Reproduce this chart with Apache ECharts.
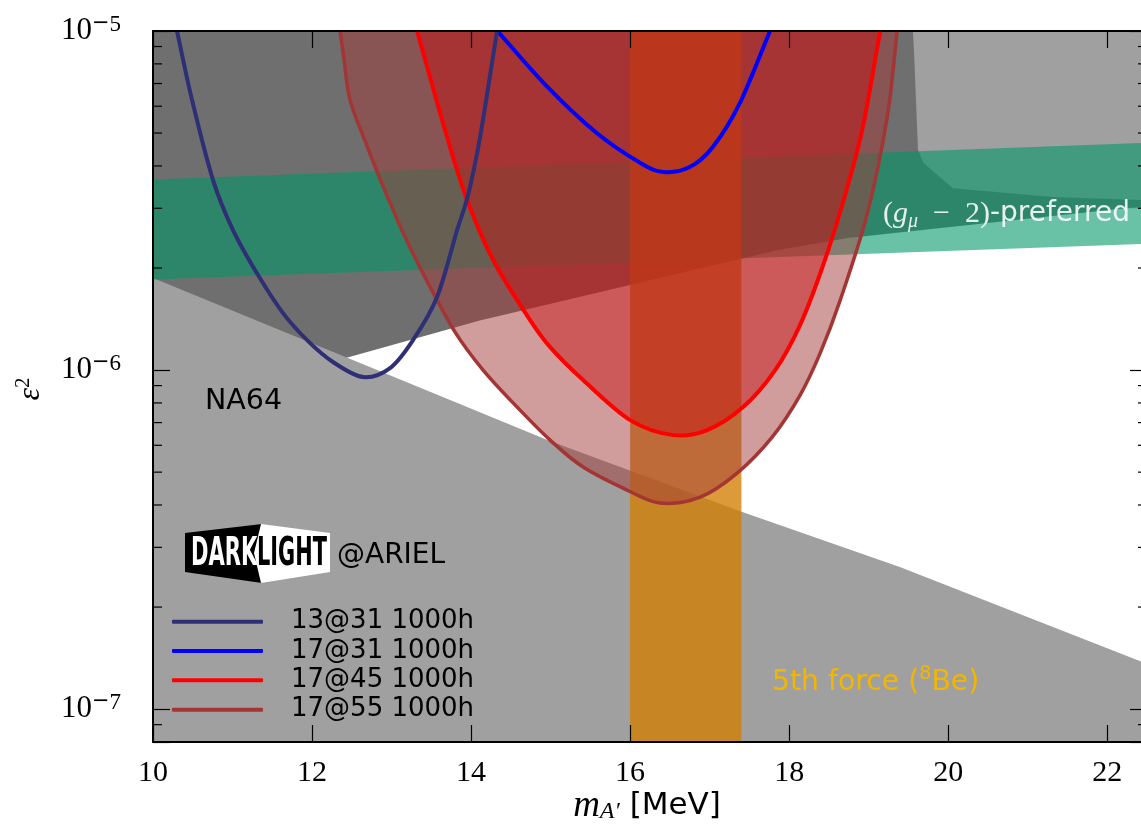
<!DOCTYPE html>
<html><head><meta charset="utf-8">
<script src="https://cdn.jsdelivr.net/npm/echarts@6/dist/echarts.min.js"></script>
<style>html,body{margin:0;padding:0;background:#fff}#c{width:1141px;height:832px}</style>
</head><body><div id="c"></div>
<script>
// ---- axis ranges & ticks ----
const X_MIN = 10, X_MAX = 22.5, Y_MIN = 8e-8, Y_MAX = 1e-5;
const xTickLabels = [10, 12, 14, 16, 18, 20, 22];
const yMajorTicks = [1e-7, 1e-6, 1e-5];
const yMinorTicks = [9e-8, 2e-7, 3e-7, 4e-7, 5e-7, 6e-7, 7e-7, 8e-7, 9e-7,
                     2e-6, 3e-6, 4e-6, 5e-6, 6e-6, 7e-6, 8e-6, 9e-6];

// ---- sensitivity curves [m_A' (MeV), eps^2] ----
const curve13at31 = [[10.302,1e-5],[10.491,6.256e-6],[10.755,3.634e-6],[11.006,2.588e-6],[11.321,1.906e-6],[11.635,1.472e-6],[11.950,1.217e-6],[12.264,1.056e-6],[12.642,9.537e-7],[12.981,1.014e-6],[13.270,1.226e-6],[13.572,1.642e-6],[13.824,2.588e-6],[13.962,3.282e-6],[14.113,4.867e-6],[14.327,1e-5]];
const curve17at31 = [[14.33,1e-5],[14.96,6.84e-6],[15.58,5.0e-6],[16.13,4.08e-6],[16.42,3.84e-6],[16.75,3.97e-6],[17.04,4.55e-6],[17.38,6.13e-6],[17.76,1e-5]];
const curve17at45 = [[13.321,1e-5],[13.698,4.867e-6],[13.950,3.173e-6],[14.277,2.111e-6],[14.742,1.404e-6],[14.994,1.169e-6],[15.409,9.343e-7],[16.000,7.119e-7],[16.541,6.429e-7],[16.969,6.652e-7],[17.421,7.778e-7],[17.824,1.0e-6],[18.138,1.36e-6],[18.415,2.0e-6],[18.667,3.067e-6],[18.918,5.105e-6],[19.145,1e-5]];
const curve17at55 = [[12.352,1e-5],[12.403,8.21e-6],[12.478,6.256e-6],[12.667,4.736e-6],[12.918,3.373e-6],[13.170,2.468e-6],[13.459,1.805e-6],[13.799,1.294e-6],[14.151,1.0e-6],[14.579,7.778e-7],[14.994,6.215e-7],[15.409,5.175e-7],[15.962,4.426e-7],[16.377,4.052e-7],[16.881,4.221e-7],[17.346,4.968e-7],[17.786,6.342e-7],[18.138,8.44e-7],[18.390,1.122e-6],[18.642,1.608e-6],[18.981,2.885e-6],[19.233,5.575e-6],[19.358,1e-5]];

// ---- excluded / preferred regions ----
const na64Region = [[10,1.87e-6],[12.39,1.10e-6],[14.99,6.18e-7],[17.42,3.81e-7],[19.40,2.62e-7],[22.5,1.36e-7],[22.5,8e-8],[10,8e-8]];
const upperRightRegion = [[19.56,1e-5],[22.5,1e-5],[22.5,3.0e-6],[19.56,3.0e-6]];
const darkRegion = [[10,1e-5],[19.56,1e-5],[19.62,4.46e-6],[19.69,4.08e-6],[20.06,3.44e-6],[21.32,3.24e-6],[22.5,3.17e-6],[22.5,3.05e-6],[18.74,2.45e-6],[17.86,2.26e-6],[14.11,1.40e-6],[12.39,1.08e-6],[10,8.2e-7]];
const gm2Band = [[10,3.65e-6],[22.5,4.68e-6],[22.5,2.356e-6],[10,1.85e-6]];
const fifthForce = [16.0, 17.4];

const names = ['13@31 1000h','17@31 1000h','17@45 1000h','17@55 1000h'];

// Catmull-Rom spline through the projected points (rendering only)
function splinePath(pts, close) {
  const n = pts.length;
  let d = 'M' + pts[0][0] + ' ' + pts[0][1];
  for (let i = 0; i < n - 1; i++) {
    const p1 = pts[i], p2 = pts[i + 1];
    const p0 = i > 0 ? pts[i - 1] : [2 * p1[0] - p2[0], 2 * p1[1] - p2[1]];
    const p3 = i + 2 < n ? pts[i + 2] : [2 * p2[0] - p1[0], 2 * p2[1] - p1[1]];
    const c1x = p1[0] + (p2[0] - p0[0]) / 6, c1y = p1[1] + (p2[1] - p0[1]) / 6;
    const c2x = p2[0] - (p3[0] - p1[0]) / 6, c2y = p2[1] - (p3[1] - p1[1]) / 6;
    d += ' C' + c1x + ' ' + c1y + ' ' + c2x + ' ' + c2y + ' ' + p2[0] + ' ' + p2[1];
  }
  return close ? d + ' Z' : d;
}

function poly(pts, fill) {
  return {
    type: 'custom', coordinateSystem: 'cartesian2d', silent: true,
    data: pts, encode: {x: 0, y: 1},
    renderItem: function (params, api) {
      if (params.dataIndex !== 0) return;
      return {type: 'polygon', shape: {points: pts.map(p => api.coord(p))}, style: {fill: fill}};
    }
  };
}
function fillSeries(data, color) {
  return {type: 'custom', coordinateSystem: 'cartesian2d', silent: true, clip: true,
    data: data, encode: {x: 0, y: 1},
    renderItem: function (params, api) {
      if (params.dataIndex !== 0) return;
      return {type: 'path', shape: {pathData: splinePath(data.map(p => api.coord(p)), true)},
              style: {fill: color, stroke: 'none'}};
    }};
}
function curveSeries(name, data, color, w) {
  return {type: 'custom', name: name, coordinateSystem: 'cartesian2d', silent: true, clip: true,
    itemStyle: {color: color}, data: data, encode: {x: 0, y: 1},
    renderItem: function (params, api) {
      if (params.dataIndex !== 0) return;
      return {type: 'path', shape: {pathData: splinePath(data.map(p => api.coord(p)), false)},
              style: {fill: 'none', stroke: color, lineWidth: w, lineCap: 'round', lineJoin: 'round'}};
    }};
}

const bandPts = [[fifthForce[0],Y_MIN],[fifthForce[1],Y_MIN],[fifthForce[1],Y_MAX],[fifthForce[0],Y_MAX]];

const yLabelFmt = function (v) {
  const e = Math.round(Math.log10(v));
  const isMajor = yMajorTicks.some(t => Math.abs(v / t - 1) < 1e-6);
  return isMajor ? '{b|10}{m|\u2212}{s|' + (-e) + '}' : '';
};

const axisLineStyle = {color: '#000', width: 2};
const tickStyle = {color: '#000', width: 1.2};

const option = {
  animation: false,
  backgroundColor: '#fff',
  grid: {left: 153, top: 31, right: -6, bottom: 90, containLabel: false, outerBoundsMode: 'none'},
  xAxis: [
    {type: 'value', min: X_MIN, max: X_MAX, interval: 2, position: 'bottom', z: 10,
     axisLine: {show: true, lineStyle: axisLineStyle},
     axisTick: {show: true, inside: true, length: 17, lineStyle: tickStyle},
     axisLabel: {formatter: v => xTickLabels.includes(v) ? String(v) : '', fontFamily: 'Liberation Serif', fontSize: 30, color: '#000', margin: 16},
     splitLine: {show: false}},
    {type: 'value', min: X_MIN, max: X_MAX, interval: 2, position: 'top', z: 10,
     axisLine: {show: true, lineStyle: axisLineStyle},
     axisTick: {show: true, inside: true, length: 17, lineStyle: tickStyle},
     axisLabel: {show: false}, splitLine: {show: false}}
  ],
  yAxis: [
    {type: 'log', logBase: 10, min: Y_MIN, max: Y_MAX, position: 'left', z: 10,
     axisLine: {show: true, lineStyle: axisLineStyle},
     axisTick: {show: true, inside: true, length: 17, lineStyle: tickStyle},
     axisLabel: {formatter: yLabelFmt, margin: 32, color: '#000',
       rich: {b: {fontFamily: 'Liberation Serif', fontSize: 31, lineHeight: 36, color: '#000'},
              m: {fontFamily: 'DejaVu Sans', fontSize: 21, lineHeight: 19, verticalAlign: 'top', color: '#000'},
              s: {fontFamily: 'Liberation Serif', fontSize: 23, lineHeight: 19, verticalAlign: 'top', color: '#000'}}},
     splitLine: {show: false}, minorTick: {show: false}},
    {type: 'log', logBase: 10, min: Y_MIN, max: Y_MAX, position: 'right', z: 10,
     axisLine: {show: true, lineStyle: axisLineStyle},
     axisTick: {show: true, inside: true, length: 17, lineStyle: tickStyle},
     axisLabel: {show: false}, splitLine: {show: false}}
  ],
  legend: {
    data: names, orient: 'vertical', left: 172, top: 608.7, padding: 0,
    icon: 'roundRect', itemWidth: 91, itemHeight: 4, itemGap: 3.33,
    textStyle: {fontFamily: 'DejaVu Sans', fontSize: 26, lineHeight: 26, color: '#000', padding: [0, 0, 0, 23]},
    selectedMode: false
  },
  series: [
    poly(upperRightRegion, '#a0a0a0'),
    poly(darkRegion, '#6f6f6f'),
    poly(na64Region, '#a0a0a0'),
    poly(gm2Band, 'rgba(0,152,103,0.59)'),
    poly(bandPts, 'rgba(212,126,0,0.78)'),
    fillSeries(curve17at55, 'rgba(161,57,57,0.5)'),
    fillSeries(curve17at45, 'rgba(200,18,18,0.47)'),
    curveSeries(names[3], curve17at55, '#a33535', 3.5),
    curveSeries(names[2], curve17at45, '#ff0000', 4),
    curveSeries(names[1], curve17at31, '#0000ff', 4),
    curveSeries(names[0], curve13at31, '#2f2f76', 4),
    {type: 'custom', coordinateSystem: 'cartesian2d', silent: true, z: 20,
     data: yMinorTicks.map(v => [X_MIN, v]), encode: {x: 0, y: 1},
     renderItem: function (params, api) {
       const v = yMinorTicks[params.dataIndex];
       const a = api.coord([X_MIN, v]), b = api.coord([X_MAX, v]);
       return {type: 'group', children: [
         {type: 'line', shape: {x1: a[0], y1: a[1], x2: a[0] + 9, y2: a[1]}, style: {stroke: '#000', lineWidth: 1.2}},
         {type: 'line', shape: {x1: b[0] - 9, y1: b[1], x2: b[0], y2: b[1]}, style: {stroke: '#000', lineWidth: 1.2}}
       ]};
     }}
  ],
  graphic: [
    {type: 'text', x: 31, y: 389, rotation: Math.PI / 2, z: 30,
     style: {text: '{e|\u03b5}{s|2}', textAlign: 'center', textVerticalAlign: 'middle',
       rich: {e: {fontFamily: 'Liberation Serif', fontStyle: 'italic', fontSize: 32, lineHeight: 36, fill: '#000'},
              s: {fontFamily: 'Liberation Serif', fontSize: 21, lineHeight: 20, verticalAlign: 'top', fill: '#000'}}}},
    {type: 'text', x: 647, y: 806, z: 30,
     style: {text: '{m|m}{a|A\u2032}{t| [MeV]}', textAlign: 'center', textVerticalAlign: 'middle',
       rich: {m: {fontFamily: 'Liberation Serif', fontStyle: 'italic', fontSize: 37, lineHeight: 36, fill: '#000'},
              a: {fontFamily: 'Liberation Serif', fontStyle: 'italic', fontSize: 24, lineHeight: 22, verticalAlign: 'bottom', fill: '#000'},
              t: {fontFamily: 'DejaVu Sans', fontSize: 31, lineHeight: 36, fill: '#000'}}}},
    {type: 'text', x: 205, y: 402, z: 30,
     style: {text: 'NA64', fontFamily: 'DejaVu Sans', fontSize: 28.5, fill: '#000', textAlign: 'left', textVerticalAlign: 'middle'}},
    {type: 'polygon', z: 30, shape: {points: [[185,533],[262,524],[262,583],[185,572]]}, style: {fill: '#000'}},
    {type: 'polygon', z: 31, shape: {points: [[261,524],[330,533],[330,572],[261,583],[254,553]]}, style: {fill: '#fff'}},
    {type: 'text', x: 191, y: 555, scaleX: 0.54, z: 32,
     style: {text: 'DARK', fontFamily: 'DejaVu Sans', fontWeight: 'bold', fontSize: 39, fill: '#fff', textAlign: 'left', textVerticalAlign: 'middle'}},
    {type: 'text', x: 257, y: 555, scaleX: 0.535, z: 32,
     style: {text: 'LIGHT', fontFamily: 'DejaVu Sans', fontWeight: 'bold', fontSize: 39, fill: '#000', textAlign: 'left', textVerticalAlign: 'middle'}},
    {type: 'text', x: 337, y: 556, z: 30,
     style: {text: '@ARIEL', fontFamily: 'DejaVu Sans', fontSize: 28, fill: '#000', textAlign: 'left', textVerticalAlign: 'middle'}},
    {type: 'text', x: 883, y: 214, z: 30,
     style: {text: '{p|(}{g|g}{u|\u03bc}{p|\u2002\u2212\u20022)}{s|-preferred}', textAlign: 'left', textVerticalAlign: 'middle',
       rich: {p: {fontFamily: 'Liberation Serif', fontSize: 30, lineHeight: 36, fill: 'rgba(255,255,255,0.88)'},
              g: {fontFamily: 'Liberation Serif', fontStyle: 'italic', fontSize: 30, lineHeight: 36, fill: 'rgba(255,255,255,0.88)'},
              u: {fontFamily: 'Liberation Serif', fontStyle: 'italic', fontSize: 20, lineHeight: 18, verticalAlign: 'bottom', fill: 'rgba(255,255,255,0.88)'},
              s: {fontFamily: 'DejaVu Sans', fontSize: 28, lineHeight: 36, fill: 'rgba(255,255,255,0.88)'}}}},
    {type: 'text', x: 772, y: 683, z: 30,
     style: {text: '{a|5th force (}{s|8}{a|Be)}', textAlign: 'left', textVerticalAlign: 'middle',
       rich: {a: {fontFamily: 'DejaVu Sans', fontSize: 28.3, lineHeight: 36, fill: '#f2b600'},
              s: {fontFamily: 'DejaVu Sans', fontSize: 19, lineHeight: 20, verticalAlign: 'top', fill: '#f2b600'}}}}
  ]
};
const chart = echarts.init(document.getElementById('c'), null, {renderer: 'canvas'});
chart.setOption(option);
</script></body></html>
